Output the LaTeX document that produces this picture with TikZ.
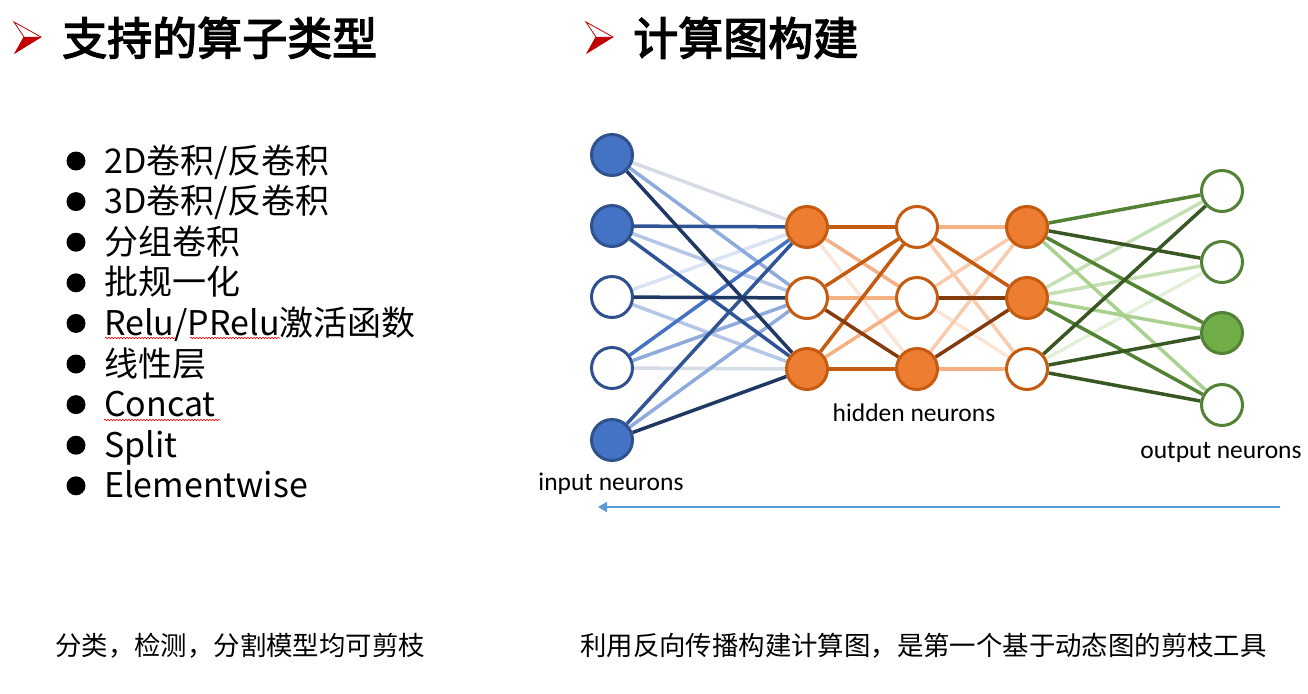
\documentclass[tikz,border=0pt]{standalone}
\usepackage{fontspec}
\setmainfont{Carlito}
\newfontfamily\cjk{Noto Sans CJK SC}
\newfontfamily\cjkb{Noto Sans CJK SC}[FakeBold=3]
\usetikzlibrary{backgrounds,arrows.meta,decorations.pathmorphing}
\definecolor{bfill}{HTML}{4472C4}\definecolor{bline}{HTML}{2F528F}
\definecolor{ofill}{HTML}{ED7D31}\definecolor{oline}{HTML}{C55A11}
\definecolor{gfill}{HTML}{70AD47}\definecolor{gline}{HTML}{538135}
\definecolor{B0}{HTML}{D6DCE5}\definecolor{B1}{HTML}{DAE3F3}\definecolor{B2}{HTML}{B4C7E7}
\definecolor{B3}{HTML}{8FAADC}\definecolor{B4}{HTML}{4472C4}\definecolor{B5}{HTML}{2F5597}\definecolor{B6}{HTML}{203864}
\definecolor{O1}{HTML}{FBE5D6}\definecolor{O2}{HTML}{F8CBAD}\definecolor{O3}{HTML}{F4B183}
\definecolor{O4}{HTML}{C55A11}\definecolor{O5}{HTML}{843C0C}
\definecolor{G1}{HTML}{E2F0D9}\definecolor{G2}{HTML}{C5E0B4}\definecolor{G3}{HTML}{A9D18E}
\definecolor{G4}{HTML}{548235}\definecolor{G5}{HTML}{385723}
\definecolor{arrowblue}{HTML}{5B9BD5}
\definecolor{markred}{HTML}{C00000}
\begin{document}
\begin{tikzpicture}[x=1pt,y=-1pt,
  neuron/.style={circle,minimum size=41pt,inner sep=0pt,line width=3pt},
  bn/.style={neuron,draw=bline,fill=white},
  bnf/.style={bn,fill=bfill},
  on/.style={neuron,draw=oline,fill=white},
  onf/.style={on,fill=ofill},
  gn/.style={neuron,draw=gline,fill=white},
  gnf/.style={gn,fill=gfill},
  e/.style={line width=3.5pt,draw=#1},
  lbl/.style={font=\fontsize{25.5}{30}\selectfont,anchor=base,inner sep=0pt},
  item/.style={font=\cjk\fontsize{34}{39}\selectfont,anchor=base west,inner sep=0pt},
  title/.style={font=\cjkb\fontsize{45}{52}\selectfont,anchor=base west,inner sep=0pt},
  note/.style={font=\cjk\fontsize{26.4}{30}\selectfont,anchor=base west,inner sep=0pt},
  dot/.style={circle,fill=black,minimum size=19pt,inner sep=0pt},
  squig/.style={draw=red,line width=0.6pt,decorate,decoration={snake,amplitude=0.8pt,segment length=3pt}}
]
\useasboundingbox (0,0) rectangle (1308,693);
% titles with arrow markers
\foreach \dx/\nm in {0/ma,572/mb}{
  \coordinate (\nm t) at (14+\dx,22);
  \coordinate (\nm r) at (41+\dx,37);
  \coordinate (\nm b) at (15+\dx,53);
  \coordinate (\nm n) at (24+\dx,37);
  \fill[markred] (\nm n) -- (\nm r) -- (\nm b) -- cycle;
  \draw[markred,line width=0.8pt,line join=miter] (\nm n) -- (\nm t) -- (\nm r) -- (\nm b) -- cycle;
}
\node[title] (t1) at (62,55) {支持的算子类型};
\node[title] (t2) at (633,55) {计算图构建};
% bullet list
\foreach \i in {0,...,8}{
  \node[dot] (d\i) at (76,161+40.6*\i) {};
}
\node[item] (it0) at (104,173) {2D卷积/反卷积};
\node[item] (it1) at (104,213.6) {3D卷积/反卷积};
\node[item] (it2) at (104,254.2) {分组卷积};
\node[item] (it3) at (104,294.8) {批规一化};
\node[item] (it4) at (104,335.4) {Relu/PRelu激活函数};
\node[item] (it5) at (104,376) {线性层};
\node[item] (it6) at (104,416.6) {Concat};
\node[item] (it7) at (104,457.2) {Split};
\node[item] (it8) at (104,497.8) {Elementwise};
% spell-check squiggles
\coordinate (s1a) at (105,338); \coordinate (s1b) at (175,338);
\coordinate (s2a) at (190,338); \coordinate (s2b) at (280,338);
\coordinate (s3a) at (104,420); \coordinate (s3b) at (220,420);
\draw[squig] (s1a) -- (s1b);
\draw[squig] (s2a) -- (s2b);
\draw[squig] (s3a) -- (s3b);
% neurons
\node[bnf] (i1) at (612,155) {};
\node[bnf] (i2) at (612,226) {};
\node[bn]  (i3) at (612,297) {};
\node[bn]  (i4) at (612,368) {};
\node[bnf] (i5) at (612,440) {};
\node[onf] (ha1) at (807,227) {};
\node[on]  (ha2) at (807,298) {};
\node[onf] (ha3) at (807,369) {};
\node[on]  (hb1) at (917,227) {};
\node[on]  (hb2) at (917,298) {};
\node[onf] (hb3) at (917,369) {};
\node[onf] (hc1) at (1027,227) {};
\node[onf] (hc2) at (1027,298) {};
\node[on]  (hc3) at (1027,369) {};
\node[gn]  (o1) at (1222,191) {};
\node[gn]  (o2) at (1222,262) {};
\node[gnf] (o3) at (1222,333) {};
\node[gn]  (o4) at (1222,405) {};
\begin{scope}[on background layer]
\foreach \a/\b/\c in {i1/ha1/B0,i3/ha1/B1,i4/ha3/B0,i2/ha2/B2,i3/ha3/B2,i1/ha2/B3,i4/ha2/B3,i5/ha2/B3,
  i4/ha1/B4,i2/ha1/B5,i2/ha3/B5,i5/ha1/B5,i1/ha3/B6,i3/ha2/B6,i5/ha3/B6,
  ha1/hb3/O1,hb2/hc3/O1,hb1/hc3/O2,hb2/hc1/O2,hb3/hc1/O2,ha1/hb2/O3,ha2/hb2/O3,ha3/hb2/O3,hb1/hc1/O3,hb3/hc3/O3,
  ha1/hb1/O4,ha2/hb1/O4,ha3/hb1/O4,ha3/hb3/O4,hb1/hc2/O4,ha2/hb3/O5,hb2/hc2/O5,hb3/hc2/O5,
  hc3/o2/G1,hc2/o1/G2,hc2/o2/G2,hc2/o3/G3,hc1/o4/G3,hc1/o1/G4,hc1/o3/G4,hc2/o4/G4,
  hc1/o2/G5,hc3/o1/G5,hc3/o3/G5,hc3/o4/G5}{
  \draw[e=\c] (\a) -- (\b);
}
\end{scope}
% labels
\node[lbl] (lh) at (914,421) {hidden neurons};
\node[lbl] (li) at (611,490) {input neurons};
\node[lbl] (lo) at (1221,458) {output neurons};
% back-propagation arrow
\coordinate (ar) at (1280,507);
\coordinate (al) at (598,507);
\draw[arrowblue,line width=2.8pt,-{Triangle[length=9pt,width=10pt]}] (ar) -- (al);
% notes
\node[note] (n1) at (55,655) {分类，检测，分割模型均可剪枝};
\node[note] (n2) at (580,655) {利用反向传播构建计算图，是第一个基于动态图的剪枝工具};
\end{tikzpicture}
\end{document}
